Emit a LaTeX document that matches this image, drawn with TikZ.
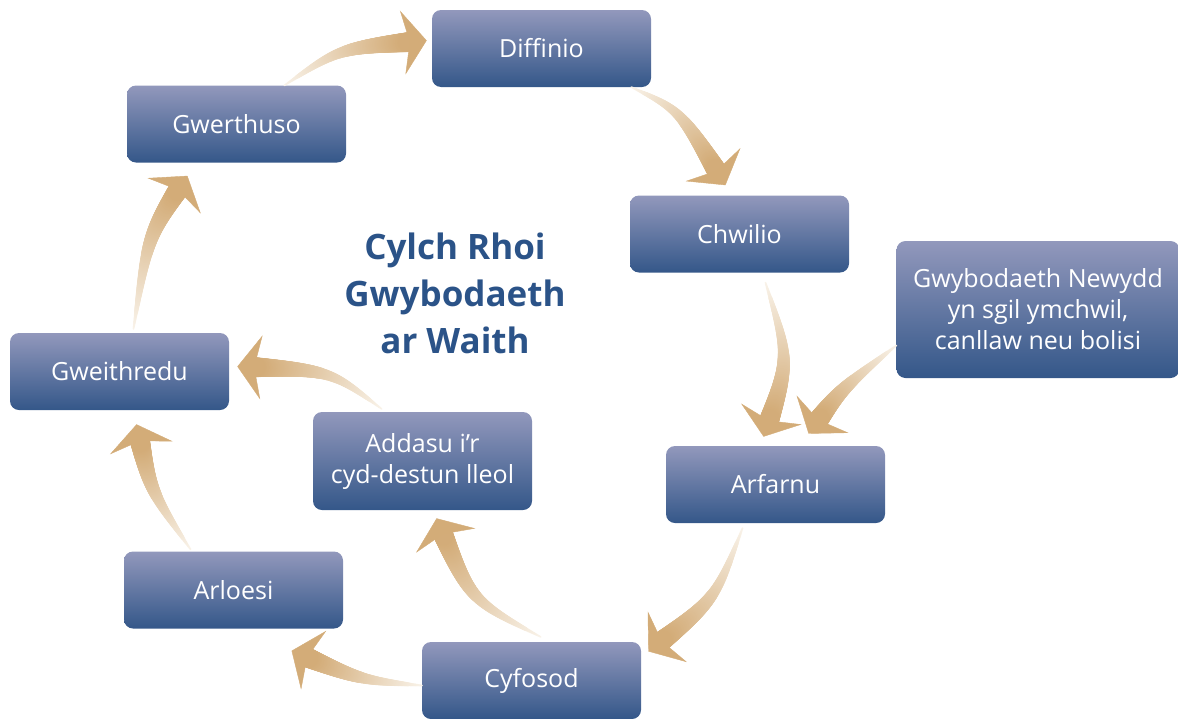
\documentclass[tikz,border=0pt]{standalone}
\usepackage{fontspec}
\setmainfont{Open Sans}
\usetikzlibrary{arrows.meta, decorations.markings}
\definecolor{boxtop}{RGB}{146,152,188}
\definecolor{boxbottom}{RGB}{52,87,137}
\definecolor{flowtail}{RGB}{249,243,234}
\definecolor{flowhead}{RGB}{211,172,120}
\definecolor{titleblue}{RGB}{43,83,136}
\tikzset{
  stage/.style={rectangle, rounded corners=9pt, top color=boxtop, bottom color=boxbottom,
    text=white, align=center, minimum width=219pt, minimum height=77pt,
    font=\fontsize{25}{31}\selectfont},
  flowstem/.style={decorate, decoration={markings,
    mark=between positions 0 and 1 step 0.8pt with {
      \pgfmathsetmacro\flowpos{min(1.2,\pgfkeysvalueof{/pgf/decoration/mark info/distance from start}/(\pgfdecoratedpathlength-18))}
      \ifdim\flowpos pt<1pt
        \pgfmathsetmacro\flowpct{100*\flowpos}
        \pgfmathsetmacro\flowrad{1+9*\flowpos}
        \fill[flowhead!\flowpct!flowtail] (0,0) circle (\flowrad pt);
      \fi
    }}},
  flowtip/.style={decorate, decoration={markings,
    mark=at position 0.999 with {\arrow{Stealth[length=24pt, width=64pt, inset=7pt, color=flowhead]}}}},
  flow/.style={postaction=flowstem, postaction=flowtip}
}

\begin{document}
\begin{tikzpicture}[x=1pt, y=1pt]
\useasboundingbox (0,0) rectangle (1178,-718);
% the cycle
\node [stage] (diffinio) at (541.5,-48.5) {Diffinio};
\node [stage] (chwilio) at (739.5,-234) {Chwilio};
\node [stage] (arfarnu) at (775.5,-484.5) {Arfarnu};
\node [stage] (cyfosod) at (531.5,-680.5) {Cyfosod};
\node [stage] (addasu) at (422.5,-461) [minimum height=98pt] {Addasu i’r\\cyd-destun lleol};
\node [stage] (arloesi) at (233.5,-590) {Arloesi};
\node [stage] (gweithredu) at (119.5,-371.5) {Gweithredu};
\node [stage] (gwerthuso) at (236.5,-124) {Gwerthuso};
\node [stage] (newydd) at (1038,-309.5) [minimum width=283pt, minimum height=137pt]
  {Gwybodaeth Newydd\\yn sgil ymchwil,\\canllaw neu bolisi};
\node [text=titleblue, align=center, font=\fontsize{35}{47}\bfseries\selectfont] (title)
  at (455,-293) {Cylch Rhoi\\Gwybodaeth\\ar Waith};
% arrows
\path [flow] ([xshift=48pt]gwerthuso.north) .. controls (340,-48) .. ([shift={(-5,8)}]diffinio.west);
\path [flow] ([xshift=90pt]diffinio.south) .. controls (680,-110) .. ([shift={(-14,10)}]chwilio.north);
\path [flow] ([shift={(26,-10)}]chwilio.south) .. controls (790,-360) .. ([shift={(-12,9)}]arfarnu.north);
\path [flow] ([yshift=-36pt]newydd.west) .. controls (840,-390) .. ([shift={(33,12)}]arfarnu.north);
\path [flow] ([shift={(-33,-5)}]arfarnu.south) .. controls (715,-600) .. ([shift={(7,29)}]cyfosod.east);
\path [flow] ([shift={(9,5)}]cyfosod.north) .. controls (470,-600) .. ([shift={(14,-8)}]addasu.south);
\path [flow] ([yshift=-5pt]cyfosod.west) .. controls (360,-680) .. ([shift={(58,-22)}]arloesi.south);
\path [flow] ([shift={(-43,2)}]arloesi.north) .. controls (150,-490) .. ([shift={(17,-14)}]gweithredu.south);
\path [flow] ([shift={(-41,3)}]addasu.north) .. controls (330,-370) .. ([shift={(8,5)}]gweithredu.east);
\path [flow] ([shift={(14,4)}]gweithredu.north) .. controls (148,-235) .. ([shift={(-49,-13)}]gwerthuso.south);
\end{tikzpicture}
\end{document}
